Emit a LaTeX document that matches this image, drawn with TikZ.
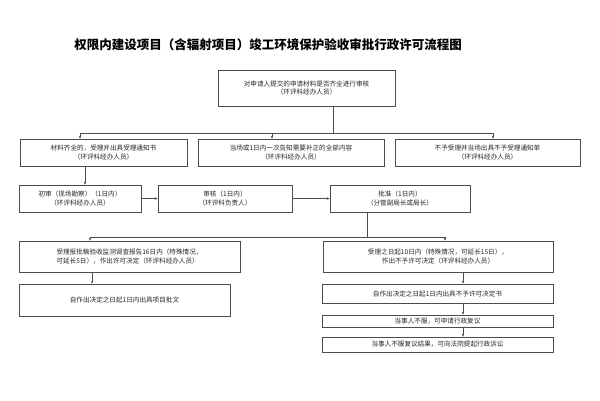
\documentclass[tikz,border=0pt]{standalone}
\usepackage{fontspec}
\setmainfont{Noto Sans CJK SC}
\usetikzlibrary{arrows.meta}
\begin{document}
\begin{tikzpicture}[x=1pt,y=-1pt,
  bx/.style={draw=black!70,line width=0.6pt,inner sep=0pt,font=\fontsize{6.6}{8.8}\selectfont,align=center,text=black!85},
  ar/.style={draw=black!70,line width=0.6pt,-{Stealth[length=3pt,width=2.5pt]}},
  ln/.style={draw=black!70,line width=0.6pt}]
\useasboundingbox (0,0) rectangle (600,400);
\fill[white] (0,0) rectangle (600,400);
\node[font=\bfseries\fontsize{12.5}{14}\selectfont] (title) at (268,45) {权限内建设项目（含辐射项目）竣工环境保护验收审批行政许可流程图};
\node[bx,minimum width=177pt,minimum height=36pt] (top) at (306.5,88) {对申请人提交的申请材料是否齐全进行审核\\（环评科经办人员）};
\node[bx,minimum width=167pt,minimum height=27pt] (a) at (103.5,152.5) {材料齐全的，受理并出具受理通知书\\（环评科经办人员）};
\node[bx,minimum width=186pt,minimum height=27pt] (b) at (291,152.5) {当场或1日内一次告知需要补正的全部内容\\（环评科经办人员）};
\node[bx,minimum width=185pt,minimum height=27pt] (c) at (487.5,152.5) {不予受理并当场出具不予受理通知单\\（环评科经办人员）};
\node[bx,minimum width=122pt,minimum height=27pt] (d) at (80,198.5) {初审（现场勘察）（1日内）\\（环评科经办人员）};
\node[bx,minimum width=134pt,minimum height=27pt] (e) at (225,198.5) {审核（1日内）\\（环评科负责人）};
\node[bx,minimum width=140pt,minimum height=27pt] (f) at (400,198.5) {批准（1日内）\\（分管副局长或局长）};
\node[bx,minimum width=221pt,minimum height=31pt,align=left] (g) at (129.5,256.5) {受理报批稿验收监测调查报告16日内（特殊情况，\\可延长5日），作出许可决定（环评科经办人员）};
\node[bx,minimum width=230pt,minimum height=31pt] (h) at (438,256.5) {受理之日起10日内（特殊情况，可延长15日），\\作出不予许可决定（环评科经办人员）};
\node[bx,minimum width=211pt,minimum height=32pt] (i) at (124.5,300) {自作出决定之日起1日内出具项目批文};
\node[bx,minimum width=231pt,minimum height=19pt] (j) at (437.5,293.5) {自作出决定之日起1日内出具不予许可决定书};
\node[bx,minimum width=231pt,minimum height=12pt] (k) at (437.5,321) {当事人不服，可申请行政复议};
\node[bx,minimum width=231pt,minimum height=15pt] (l) at (437.5,344.5) {当事人不服复议结果，可向法院提起行政诉讼};
\coordinate (s1) at (333,133);
\draw[ln] (top.south -| s1) -- (s1);
\draw[ln] (80,133) -- (493,133);
\draw[ar] (80,133) -- (a.north -| 80,0);
\draw[ar] (272,133) -- (b.north -| 272,0);
\draw[ar] (493,133) -- (c.north -| 493,0);
\draw[ar] (a.south -| 85,0) -- (d.north -| 85,0);
\draw[ar] (d) -- (e);
\draw[ar] (e) -- (f);
\coordinate (s2) at (367,237);
\draw[ln] (f.south -| s2) -- (s2);
\draw[ln] (90,237) -- (445,237);
\draw[ar] (90,237) -- (g.north -| 90,0);
\draw[ar] (445,237) -- (h.north -| 445,0);
\draw[ar] (g.south -| 92,0) -- (i.north -| 92,0);
\draw[ar] (h.south -| 463,0) -- (j.north -| 463,0);
\draw[ar] (j.south -| 463,0) -- (k.north -| 463,0);
\draw[ar] (k.south -| 463,0) -- (l.north -| 463,0);
\end{tikzpicture}
\end{document}
